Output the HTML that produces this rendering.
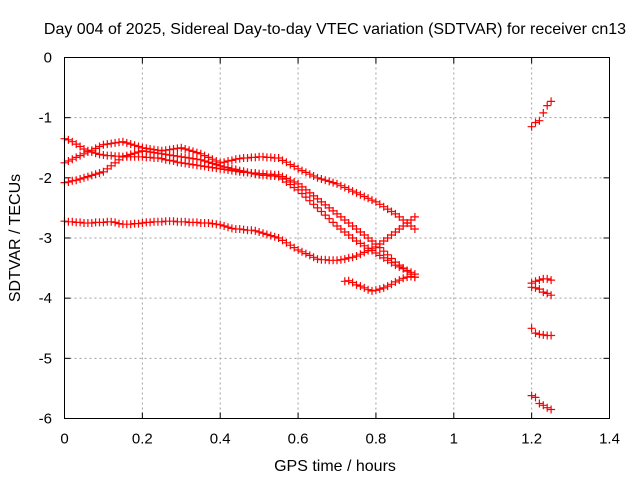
<!DOCTYPE html>
<html><head><meta charset="utf-8"><style>
body{margin:0;background:#fff}
svg{display:block;font-family:"Liberation Sans",sans-serif}
</style></head><body>
<svg id="chart" width="640" height="480">
<rect width="640" height="480" fill="#fff"/>
<g id="grid"></g>
<g id="ticks"></g>
<g id="marks"></g>
<rect x="64.5" y="57.5" width="545" height="361" fill="none" stroke="#000" stroke-width="1"/>
<text x="335" y="34" font-size="16" text-anchor="middle">Day 004 of 2025, Sidereal Day-to-day VTEC variation (SDTVAR) for receiver cn13</text>
<text x="335" y="471" font-size="16" text-anchor="middle">GPS time / hours</text>
<text transform="translate(20,238) rotate(-90)" font-size="16" text-anchor="middle">SDTVAR / TECUs</text>
</svg>
<script>
const xTicks=[0,0.2,0.4,0.6,0.8,1,1.2,1.4];
const xTickLabels=["0","0.2","0.4","0.6","0.8","1","1.2","1.4"];
const yTicks=[0,-1,-2,-3,-4,-5,-6];
const yTickLabels=["0","-1","-2","-3","-4","-5","-6"];
const s1=[-1.35,-1.37,-1.40,-1.44,-1.48,-1.52,-1.55,-1.57,-1.59,-1.61,-1.62,-1.63,-1.63,-1.64,-1.64,-1.65,-1.65,-1.65,-1.65,-1.65,-1.65,-1.66,-1.66,-1.67,-1.67,-1.68,-1.70,-1.71,-1.72,-1.74,-1.75,-1.76,-1.77,-1.78,-1.79,-1.80,-1.81,-1.82,-1.83,-1.84,-1.85,-1.86,-1.87,-1.88,-1.89,-1.90,-1.91,-1.91,-1.92,-1.92,-1.93,-1.93,-1.94,-1.94,-1.95,-1.95,-1.98,-2.01,-2.04,-2.07,-2.10,-2.15,-2.20,-2.25,-2.30,-2.35,-2.40,-2.45,-2.50,-2.55,-2.60,-2.65,-2.70,-2.75,-2.80,-2.85,-2.90,-2.95,-3.00,-3.05,-3.10,-3.16,-3.22,-3.28,-3.34,-3.40,-3.45,-3.50,-3.55,-3.60,-3.65];
const s2=[-1.75,-1.72,-1.69,-1.66,-1.63,-1.60,-1.57,-1.54,-1.51,-1.48,-1.45,-1.44,-1.43,-1.42,-1.41,-1.40,-1.42,-1.44,-1.46,-1.48,-1.50,-1.51,-1.52,-1.53,-1.54,-1.55,-1.54,-1.53,-1.52,-1.51,-1.50,-1.52,-1.54,-1.56,-1.58,-1.60,-1.63,-1.66,-1.69,-1.72,-1.75,-1.74,-1.72,-1.71,-1.69,-1.68,-1.67,-1.67,-1.66,-1.66,-1.65,-1.65,-1.66,-1.66,-1.67,-1.67,-1.71,-1.74,-1.78,-1.81,-1.85,-1.88,-1.91,-1.94,-1.97,-2.00,-2.02,-2.04,-2.06,-2.08,-2.10,-2.13,-2.16,-2.19,-2.22,-2.25,-2.28,-2.31,-2.34,-2.37,-2.40,-2.44,-2.48,-2.52,-2.56,-2.60,-2.65,-2.70,-2.75,-2.80,-2.85];
const s3=[-2.08,-2.07,-2.05,-2.04,-2.02,-2.00,-1.98,-1.96,-1.94,-1.92,-1.90,-1.85,-1.80,-1.75,-1.70,-1.65,-1.63,-1.61,-1.59,-1.57,-1.55,-1.56,-1.57,-1.58,-1.59,-1.60,-1.61,-1.62,-1.63,-1.64,-1.65,-1.66,-1.67,-1.68,-1.69,-1.70,-1.72,-1.74,-1.76,-1.78,-1.80,-1.82,-1.83,-1.85,-1.86,-1.88,-1.89,-1.91,-1.92,-1.94,-1.95,-1.96,-1.96,-1.97,-1.97,-1.98,-2.02,-2.07,-2.11,-2.16,-2.20,-2.26,-2.32,-2.38,-2.44,-2.50,-2.56,-2.62,-2.68,-2.74,-2.80,-2.85,-2.90,-2.95,-3.00,-3.05,-3.09,-3.13,-3.17,-3.21,-3.25,-3.29,-3.33,-3.37,-3.41,-3.45,-3.48,-3.51,-3.54,-3.57,-3.60];
const s4=[-2.72,-2.73,-2.73,-2.74,-2.74,-2.75,-2.75,-2.75,-2.74,-2.74,-2.74,-2.73,-2.73,-2.74,-2.76,-2.77,-2.77,-2.77,-2.76,-2.76,-2.75,-2.74,-2.74,-2.73,-2.73,-2.73,-2.72,-2.72,-2.72,-2.73,-2.73,-2.73,-2.74,-2.74,-2.74,-2.75,-2.75,-2.75,-2.76,-2.77,-2.78,-2.80,-2.82,-2.84,-2.85,-2.85,-2.86,-2.87,-2.87,-2.88,-2.90,-2.92,-2.94,-2.96,-2.98,-3.00,-3.04,-3.08,-3.12,-3.16,-3.20,-3.23,-3.26,-3.29,-3.32,-3.35,-3.36,-3.36,-3.37,-3.37,-3.37,-3.36,-3.35,-3.33,-3.32,-3.30,-3.27,-3.24,-3.21,-3.18,-3.15,-3.10,-3.05,-3.00,-2.95,-2.90,-2.85,-2.80,-2.75,-2.70,-2.65];
const s5=[-3.72,-3.71,-3.74,-3.78,-3.80,-3.83,-3.86,-3.88,-3.87,-3.85,-3.83,-3.80,-3.77,-3.73,-3.70,-3.67,-3.65,-3.64,-3.65];
const l1=[-1.15,-1.08,-1.05,-0.92,-0.80,-0.73];
const l2=[-3.75,-3.72,-3.70,-3.68,-3.68,-3.70];
const l3=[-3.82,-3.83,-3.85,-3.90,-3.92,-3.95];
const l4=[-4.50,-4.58,-4.60,-4.61,-4.62,-4.62];
const l5=[-5.62,-5.65,-5.75,-5.78,-5.82,-5.85];
const series=[[s1,0,0.01],[s2,0,0.01],[s3,0,0.01],[s4,0,0.01],[s5,0.72,0.01],[l1,1.2,0.01],[l2,1.2,0.01],[l3,1.2,0.01],[l4,1.2,0.01],[l5,1.2,0.01]];
const NS="http://www.w3.org/2000/svg";
const L=64.5,R=609.5,T=57.5,B=418.5;
function sx(v){return L+(v-0)/(1.4-0)*(R-L);}
function sy(v){return T+(0-v)/(0-(-6))*(B-T);}
function mk(tag,attrs,parent){const e=document.createElementNS(NS,tag);for(const k in attrs)e.setAttribute(k,attrs[k]);parent.appendChild(e);return e;}
const grid=document.getElementById('grid'),ticks=document.getElementById('ticks'),marks=document.getElementById('marks');
xTicks.forEach((t,i)=>{
  const x=sx(t);
  if(i>0&&i<xTicks.length-1){const g=mk('line',{x1:x,x2:x,y1:T,y2:B,stroke:'#a0a0a0','stroke-dasharray':'2,3'},grid);
  
  }
  mk('line',{x1:x,x2:x,y1:B,y2:B-6,stroke:'#000'},ticks);
  mk('line',{x1:x,x2:x,y1:T,y2:T+6,stroke:'#000'},ticks);
  const tx=mk('text',{x:x,y:B+25,'font-size':'15','text-anchor':'middle',fill:'#000'},ticks);
  tx.textContent=xTickLabels[i];
  
  
});
yTicks.forEach((t,i)=>{
  const y=sy(t);
  if(i>0&&i<yTicks.length-1){const g=mk('line',{x1:L,x2:R,y1:y,y2:y,stroke:'#a0a0a0','stroke-dasharray':'2,3'},grid);
  
  }
  mk('line',{x1:L,x2:L+6,y1:y,y2:y,stroke:'#000'},ticks);
  mk('line',{x1:R,x2:R-6,y1:y,y2:y,stroke:'#000'},ticks);
  const tx=mk('text',{x:52,y:y+5,'font-size':'15','text-anchor':'end',fill:'#000'},ticks);
  tx.textContent=yTickLabels[i];
  
  
});
series.forEach(([vals,x0,dx],si)=>{
  let d='';
  vals.forEach((v,j)=>{const x=sx(x0+j*dx),y=sy(v);d+=`M${(x-4).toFixed(1)},${y.toFixed(1)}h8M${x.toFixed(1)},${(y-4).toFixed(1)}v8`;});
  const p=mk('path',{d:d,stroke:'#ff0000','stroke-width':'1.2',fill:'none'},marks);
  
  
});
</script>
</body></html>
